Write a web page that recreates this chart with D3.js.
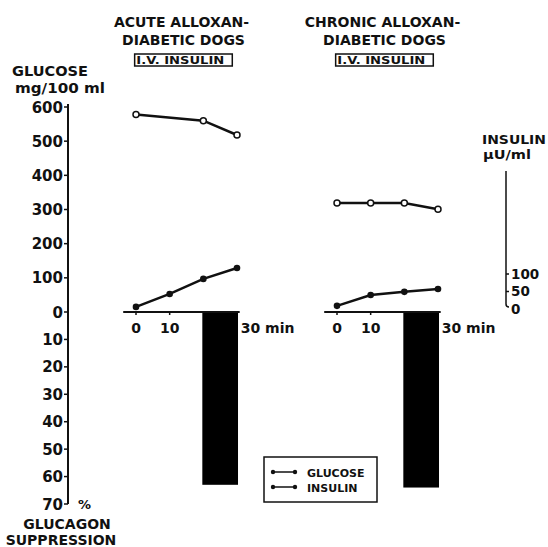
<!DOCTYPE html>
<html>
<head>
    <title>Glucagon suppression in alloxan-diabetic dogs</title>
    <script src="https://d3js.org/d3.v7.min.js"></script>
    <style>
        body { margin: 0; background: #fff; }
        text { font-family: "DejaVu Sans", sans-serif; font-weight: bold; fill: #111; }
    </style>
</head>
<body>
    <div id="chart"></div>

    <script>
        // Set up dimensions
        const width = 548;
        const height = 547;

        // Data
        const panelTitles = [["ACUTE ALLOXAN-", "DIABETIC DOGS"], ["CHRONIC ALLOXAN-", "DIABETIC DOGS"]];
        const acuteGlucoseTimes = [0, 20, 30];
        const acuteGlucose = [578, 560, 518];
        const insulinTimes = [0, 10, 20, 30];
        const acuteInsulin = [6, 43, 86, 117];
        const chronicGlucoseTimes = [0, 10, 20, 30];
        const chronicGlucose = [319, 319, 319, 301];
        const chronicInsulin = [9, 40, 49, 57];
        const suppression = [63, 64];          // % glucagon suppression, 20-30 min
        const glucoseTicks = [0, 100, 200, 300, 400, 500, 600];
        const suppressionTicks = [10, 20, 30, 40, 50, 60, 70];
        const insulinTicks = [0, 50, 100];

        const svg = d3.select("#chart")
            .append("svg")
            .attr("width", width)
            .attr("height", height);

        // Scales
        const yGlu = d3.scaleLinear().domain([0, 600]).range([312, 107]);
        const ySup = d3.scaleLinear().domain([0, 70]).range([312, 504]);
        const yIns = d3.scaleLinear().domain([0, 100]).range([309, 274]);
        const xAcute = d3.scaleLinear().domain([0, 30]).range([136, 237]);
        const xChronic = d3.scaleLinear().domain([0, 30]).range([337, 438]);

        // Left axis (glucose above, suppression below)
        const axisX = 68;
        svg.append("line")
            .attr("x1", axisX).attr("x2", axisX)
            .attr("y1", yGlu(600) - 3).attr("y2", ySup(70))
            .attr("stroke", "#111").attr("stroke-width", 2);

        const leftTicks = glucoseTicks.map(v => ({ label: v, y: yGlu(v) }))
            .concat(suppressionTicks.map(v => ({ label: v, y: ySup(v) })));

        svg.selectAll(".ltick")
            .data(leftTicks)
            .enter()
            .append("line")
            .attr("x1", axisX - 4).attr("x2", axisX)
            .attr("y1", d => d.y).attr("y2", d => d.y)
            .attr("stroke", "#111").attr("stroke-width", 1.5);

        svg.selectAll(".llabel")
            .data(leftTicks)
            .enter()
            .append("text")
            .attr("x", axisX - 5)
            .attr("y", d => d.y + 5.5)
            .attr("text-anchor", "end")
            .style("font-size", "15px")
            .text(d => d.label);

        svg.append("text").attr("x", 78).attr("y", 509).style("font-size", "13px").text("%");
        svg.append("text").attr("x", 50).attr("y", 76).attr("text-anchor", "middle")
            .style("font-size", "14px").attr("textLength", 76).attr("lengthAdjust", "spacingAndGlyphs")
            .text("GLUCOSE");
        svg.append("text").attr("x", 60).attr("y", 93).attr("text-anchor", "middle")
            .style("font-size", "14px").attr("textLength", 90).attr("lengthAdjust", "spacingAndGlyphs")
            .text("mg/100 ml");
        svg.append("text").attr("x", 67).attr("y", 529).attr("text-anchor", "middle")
            .style("font-size", "14px").text("GLUCAGON");
        svg.append("text").attr("x", 61).attr("y", 545).attr("text-anchor", "middle")
            .style("font-size", "14px").text("SUPPRESSION");

        // Insulin axis on the right
        const insX = 506;
        svg.append("path")
            .attr("d", `M${insX},${yIns(400) + 2}V${yIns(0) - 5}q0,3 3,3`)
            .attr("fill", "none").attr("stroke", "#111").attr("stroke-width", 1.5);
        svg.selectAll(".itick")
            .data(insulinTicks.filter(v => v > 0))
            .enter()
            .append("line")
            .attr("x1", insX).attr("x2", insX + 3)
            .attr("y1", d => yIns(d)).attr("y2", d => yIns(d))
            .attr("stroke", "#111").attr("stroke-width", 1.5);
        svg.selectAll(".ilabel")
            .data(insulinTicks)
            .enter()
            .append("text")
            .attr("x", insX + 5)
            .attr("y", d => yIns(d) + 4.5)
            .style("font-size", "13.5px")
            .text(d => d);
        svg.append("text").attr("x", 482).attr("y", 144)
            .style("font-size", "12px").attr("textLength", 64).attr("lengthAdjust", "spacingAndGlyphs")
            .text("INSULIN");
        svg.append("text").attr("x", 483).attr("y", 159)
            .style("font-size", "12px").attr("textLength", 48).attr("lengthAdjust", "spacingAndGlyphs")
            .text("\u03bcU/ml");

        // Panels
        const panels = [
            { x: xAcute, title: panelTitles[0], gT: acuteGlucoseTimes, g: acuteGlucose, iT: insulinTimes, ins: acuteInsulin, sup: suppression[0] },
            { x: xChronic, title: panelTitles[1], gT: chronicGlucoseTimes, g: chronicGlucose, iT: insulinTimes, ins: chronicInsulin, sup: suppression[1] }
        ];

        panels.forEach(function(p) {
            const g = svg.append("g");
            const cx = (p.x(0) + p.x(30)) / 2;

            // Titles
            g.append("text").attr("x", cx - 5).attr("y", 27).attr("text-anchor", "middle")
                .style("font-size", "14px").text(p.title[0]);
            g.append("text").attr("x", cx - 3).attr("y", 45).attr("text-anchor", "middle")
                .style("font-size", "14px").text(p.title[1]);
            g.append("rect")
                .attr("x", p.x(-0.4)).attr("y", 54)
                .attr("width", p.x(28.6) - p.x(-0.4)).attr("height", 12)
                .attr("fill", "none").attr("stroke", "#111").attr("stroke-width", 1.5);
            g.append("text").attr("x", p.x(0.1)).attr("y", 64)
                .attr("textLength", 88).attr("lengthAdjust", "spacingAndGlyphs")
                .style("font-size", "10px").text("I.V. INSULIN");

            // Glucagon suppression bar
            g.append("rect")
                .attr("x", p.x(19.7)).attr("y", ySup(0))
                .attr("width", p.x(30.3) - p.x(19.7))
                .attr("height", ySup(p.sup) - ySup(0))
                .attr("fill", "#000");

            // Time axis
            g.append("line")
                .attr("x1", p.x(-3.8)).attr("x2", p.x(30.8))
                .attr("y1", 312).attr("y2", 312)
                .attr("stroke", "#111").attr("stroke-width", 2);
            g.selectAll(".xtick")
                .data([0, 10])
                .enter()
                .append("line")
                .attr("x1", d => p.x(d)).attr("x2", d => p.x(d))
                .attr("y1", 312).attr("y2", 315)
                .attr("stroke", "#111").attr("stroke-width", 1.5);
            g.selectAll(".xlabel")
                .data([0, 10])
                .enter()
                .append("text")
                .attr("x", d => p.x(d)).attr("y", 333)
                .attr("text-anchor", "middle")
                .style("font-size", "14px")
                .text(d => d);
            g.append("text").attr("x", p.x(30.8) + 1).attr("y", 333)
                .style("font-size", "14px").text("30 min");

            // Glucose line (open circles)
            const gluPts = p.gT.map((t, i) => [p.x(t), yGlu(p.g[i])]);
            g.append("path")
                .attr("d", d3.line()(gluPts))
                .attr("fill", "none").attr("stroke", "#111").attr("stroke-width", 2.5);
            g.selectAll(".gdot")
                .data(gluPts)
                .enter()
                .append("circle")
                .attr("cx", d => d[0]).attr("cy", d => d[1]).attr("r", 3)
                .attr("fill", "#fff").attr("stroke", "#111").attr("stroke-width", 1.5);

            // Insulin line (filled dots)
            const insPts = p.iT.map((t, i) => [p.x(t), yIns(p.ins[i])]);
            g.append("path")
                .attr("d", d3.line()(insPts))
                .attr("fill", "none").attr("stroke", "#111").attr("stroke-width", 2.5);
            g.selectAll(".idot")
                .data(insPts)
                .enter()
                .append("circle")
                .attr("cx", d => d[0]).attr("cy", d => d[1]).attr("r", 3.3)
                .attr("fill", "#111");
        });

        // Legend
        const legend = svg.append("g").attr("transform", "translate(264,457)");
        legend.append("rect")
            .attr("width", 113).attr("height", 45)
            .attr("fill", "#fff").attr("stroke", "#111").attr("stroke-width", 1.5);
        ["GLUCOSE", "INSULIN"].forEach(function(name, i) {
            const y = 15 + i * 15;
            legend.append("line").attr("x1", 9).attr("x2", 31).attr("y1", y).attr("y2", y)
                .attr("stroke", "#111").attr("stroke-width", 1.5);
            legend.selectAll(".ldot" + i)
                .data([9, 31])
                .enter()
                .append("circle")
                .attr("cx", d => d).attr("cy", y).attr("r", 2.2).attr("fill", "#111");
            legend.append("text").attr("x", 43).attr("y", y + 4.5)
                .style("font-size", "11px").text(name);
        });
    </script>
</body>
</html>
